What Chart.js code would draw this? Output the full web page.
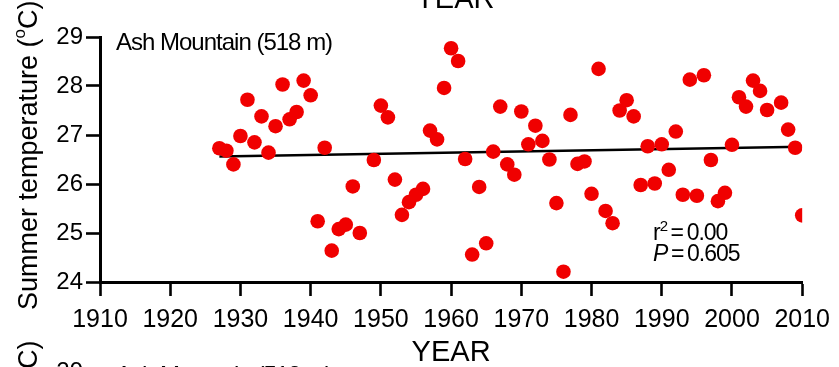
<!DOCTYPE html>
<html>
<head>
<meta charset="utf-8">
<script src="https://cdn.jsdelivr.net/npm/chart.js@4.4.1/dist/chart.umd.min.js"></script>
<style>
    html, body { margin: 0; padding: 0; background: #fff; }
    canvas { display: block; }
</style>
</head>
<body>
<canvas id="tempChart" width="839" height="367"></canvas>
<script>
// Ash Mountain summer temperatures, one value per year (1948 and 2006 have no record)
const years = [
    1927, 1928, 1929, 1930, 1931, 1932, 1933, 1934, 1935, 1936,
    1937, 1938, 1939, 1940, 1941, 1942, 1943, 1944, 1945, 1946,
    1947, 1949, 1950, 1951, 1952, 1953, 1954, 1955, 1956, 1957,
    1958, 1959, 1960, 1961, 1962, 1963, 1964, 1965, 1966, 1967,
    1968, 1969, 1970, 1971, 1972, 1973, 1974, 1975, 1976, 1977,
    1978, 1979, 1980, 1981, 1982, 1983, 1984, 1985, 1986, 1987,
    1988, 1989, 1990, 1991, 1992, 1993, 1994, 1995, 1996, 1997,
    1998, 1999, 2000, 2001, 2002, 2003, 2004, 2005, 2007, 2008,
    2009, 2010
];
const summerTemps = [
    26.73, 26.68, 26.40, 26.98, 27.72, 26.85, 27.38, 26.64, 27.18, 28.03,
    27.32, 27.47, 28.11, 27.81, 25.24, 26.74, 24.64, 25.08, 25.17, 25.95,
    25.00, 26.49, 27.60, 27.36, 26.09, 25.37, 25.63, 25.78, 25.90, 27.09,
    26.91, 27.96, 28.77, 28.51, 26.51, 24.56, 25.94, 24.79, 26.66, 27.58,
    26.40, 26.19, 27.48, 26.81, 27.19, 26.88, 26.50, 25.61, 24.21, 27.41,
    26.41, 26.46, 25.80, 28.35, 25.45, 25.20, 27.50, 27.71, 27.38, 25.98,
    26.77, 26.01, 26.81, 26.29, 27.07, 25.78, 28.13, 25.76, 28.22, 26.49,
    25.65, 25.82, 26.80, 27.77, 27.58, 28.11, 27.90, 27.51, 27.66, 27.11,
    26.74, 25.36
];

// least-squares fit, end points
const fitYears = [1927, 2010];
const fitTemps = [26.56, 26.76];

const yearTicks = [1910, 1920, 1930, 1940, 1950, 1960, 1970, 1980, 1990, 2000, 2010];
const tempTicks = [24, 25, 26, 27, 28, 29];

const siteLabel = 'Ash Mountain (518 m)';
const rSquared = '0.00';
const pValue = '0.605';

const FONT = "'Liberation Sans', Arial, sans-serif";
const NARROW = "'Liberation Sans Narrow', 'Liberation Sans', Arial, sans-serif";

// draws pieces of text one after another on the same baseline
function drawRuns(ctx, x, y, runs) {
    for (const r of runs) {
        ctx.font = r.font;
        ctx.fillText(r.text, x, y + (r.dy || 0));
        x += ctx.measureText(r.text).width;
    }
    return x;
}

function drawYTitle(ctx, x, y) {
    ctx.save();
    ctx.translate(x, y);
    ctx.rotate(-Math.PI / 2);
    ctx.textAlign = 'left';
    ctx.textBaseline = 'alphabetic';
    drawRuns(ctx, 0, 0, [
        { text: 'Summer temperature (', font: `27px ${FONT}` },
        { text: 'o', font: `17px ${FONT}`, dy: -12 },
        { text: 'C)', font: `27px ${FONT}` }
    ]);
    ctx.restore();
}

const annotations = {
    id: 'annotations',
    afterDraw(chart) {
        const ctx = chart.ctx;
        ctx.save();
        ctx.fillStyle = '#000';
        ctx.textAlign = 'left';
        ctx.textBaseline = 'alphabetic';

        drawYTitle(ctx, 37, 310);

        ctx.letterSpacing = '-1px';
        ctx.font = `24px ${FONT}`;
        ctx.fillText(siteLabel, 116, 50);

        drawRuns(ctx, 653, 240, [
            { text: 'r', font: `23px ${FONT}` },
            { text: '2', font: `15px ${FONT}`, dy: -9 },
            { text: '\u2009=\u2009' + rSquared, font: `23px ${FONT}` }
        ]);
        drawRuns(ctx, 653, 261, [
            { text: 'P', font: `italic 23px ${FONT}` },
            { text: '\u2009=\u2009' + pValue, font: `23px ${FONT}` }
        ]);

        // edges of the neighbouring panels above and below
        ctx.textAlign = 'center';
        ctx.font = `29px ${NARROW}`;
        ctx.letterSpacing = '0px';
        ctx.fillText('YEAR', 455, 8);

        ctx.textAlign = 'left';
        ctx.letterSpacing = '-1px';
        ctx.font = `24px ${FONT}`;
        ctx.fillText(siteLabel, 116, 383);
        ctx.letterSpacing = '0px';
        ctx.textAlign = 'right';
        ctx.font = `24px ${FONT}`;
        ctx.fillText('29', 83, 379);
        ctx.restore();
        drawYTitle(chart.ctx, 37, 650);
    }
};

new Chart(document.getElementById('tempChart'), {
    type: 'scatter',
    data: {
        datasets: [{
            data: years.map((y, i) => ({ x: y, y: summerTemps[i] })),
            backgroundColor: 'rgb(240, 0, 0)',
            borderWidth: 0,
            pointRadius: 7.3,
            pointHoverRadius: 7.3,
            order: 0
        }, {
            type: 'line',
            data: fitYears.map((y, i) => ({ x: y, y: fitTemps[i] })),
            borderColor: '#000',
            borderWidth: 2.6,
            pointRadius: 0,
            fill: false,
            order: 1
        }]
    },
    options: {
        responsive: false,
        animation: false,
        devicePixelRatio: 1,
        layout: { padding: { top: 37, right: 34, left: 0, bottom: 0 } },
        plugins: {
            legend: { display: false },
            tooltip: { enabled: false }
        },
        scales: {
            x: {
                type: 'linear',
                min: 1910,
                max: 2010,
                afterBuildTicks: (scale) => {
                    scale.ticks = yearTicks.map(v => ({ value: v }));
                },
                afterFit: (scale) => { scale.height = 85; },
                grid: {
                    drawOnChartArea: false,
                    drawTicks: true,
                    tickLength: 14,
                    tickWidth: 2.6,
                    tickColor: '#000'
                },
                border: { display: true, color: '#000', width: 3 },
                ticks: {
                    color: '#000',
                    padding: 9,
                    maxRotation: 0,
                    autoSkip: false,
                    font: { family: NARROW, size: 25 },
                    callback: (v) => String(v)
                },
                title: {
                    display: true,
                    text: 'YEAR',
                    color: '#000',
                    font: { family: NARROW, size: 29, lineHeight: 1 },
                    padding: { top: 0, bottom: 0 }
                }
            },
            y: {
                min: 24,
                max: 29,
                afterBuildTicks: (scale) => {
                    scale.ticks = tempTicks.map(v => ({ value: v }));
                },
                afterFit: (scale) => { scale.width = 100; },
                grid: {
                    drawOnChartArea: false,
                    drawTicks: true,
                    tickLength: 14,
                    tickWidth: 2.6,
                    tickColor: '#000'
                },
                border: { display: true, color: '#000', width: 3 },
                ticks: {
                    color: '#000',
                    padding: 3,
                    autoSkip: false,
                    font: { family: FONT, size: 24 },
                    callback: (v) => String(v)
                }
            }
        }
    },
    plugins: [annotations]
});
</script>
</body>
</html>
